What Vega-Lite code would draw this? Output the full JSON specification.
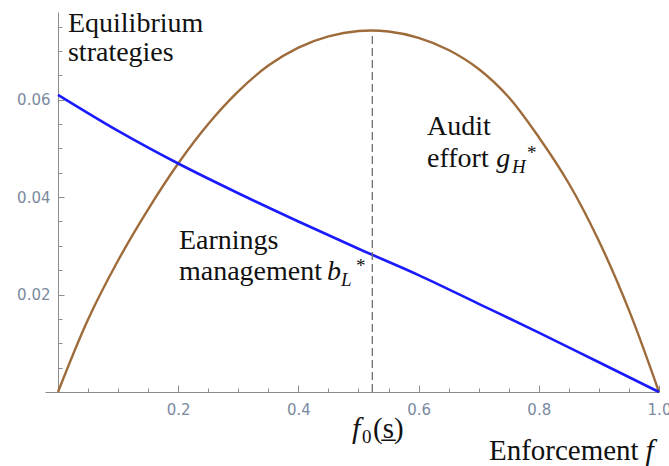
{
  "$schema": "https://vega.github.io/schema/vega-lite/v6.json",
  "autosize": {"type": "none"},
  "padding": {"left": 45, "top": 12, "right": 10, "bottom": 74},
  "width": 614,
  "height": 380,
  "config": {"view": {"stroke": null}},
  "datasets": {
    "audit": [
      {"f": 0, "v": 0}, {"f": 0.05, "v": 0.0149}, {"f": 0.1, "v": 0.027}, {"f": 0.15, "v": 0.0375},
      {"f": 0.2, "v": 0.0469}, {"f": 0.25, "v": 0.055}, {"f": 0.3, "v": 0.0617}, {"f": 0.35, "v": 0.067},
      {"f": 0.4, "v": 0.0707}, {"f": 0.45, "v": 0.073}, {"f": 0.5, "v": 0.0741}, {"f": 0.55, "v": 0.074},
      {"f": 0.6, "v": 0.0727}, {"f": 0.65, "v": 0.0702}, {"f": 0.7, "v": 0.0663}, {"f": 0.75, "v": 0.0605},
      {"f": 0.8, "v": 0.0523}, {"f": 0.85, "v": 0.0428}, {"f": 0.9, "v": 0.031}, {"f": 0.95, "v": 0.0168},
      {"f": 1, "v": 0}
    ],
    "earnings": [
      {"f": 0, "v": 0.061}, {"f": 0.1, "v": 0.0536}, {"f": 0.2, "v": 0.0469}, {"f": 0.3, "v": 0.0408},
      {"f": 0.4, "v": 0.035}, {"f": 0.5, "v": 0.0294}, {"f": 0.6, "v": 0.024}, {"f": 0.7, "v": 0.0181},
      {"f": 0.8, "v": 0.0122}, {"f": 0.9, "v": 0.0061}, {"f": 1, "v": 0}
    ],
    "threshold": [{"f": 0.523, "v": 0, "v2": 0.0739}],
    "roman": [
      {"t": "Equilibrium", "x": 0.0166, "y": 0.0739},
      {"t": "strategies", "x": 0.0166, "y": 0.0679},
      {"t": "Audit", "x": 0.614, "y": 0.0528},
      {"t": "effort", "x": 0.614, "y": 0.0462},
      {"t": "Earnings", "x": 0.2013, "y": 0.0294},
      {"t": "management", "x": 0.2013, "y": 0.023}
    ],
    "bottomroman": [
      {"t": "Enforcement", "x": 0.717, "y": -0.0139},
      {"t": "(s̲)", "x": 0.5241, "y": -0.0094}
    ],
    "italic": [
      {"t": "g", "x": 0.7291, "y": 0.0462},
      {"t": "b", "x": 0.4476, "y": 0.023}
    ],
    "bottomitalic": [
      {"t": "f", "x": 0.4892, "y": -0.0094},
      {"t": "f", "x": 0.9775, "y": -0.0139}
    ],
    "subitalic": [
      {"t": "H", "x": 0.7554, "y": 0.04495},
      {"t": "L", "x": 0.4709, "y": 0.02176}
    ],
    "subroman": [
      {"t": "0", "x": 0.5058, "y": -0.0104},
      {"t": "*", "x": 0.7804, "y": 0.0478},
      {"t": "*", "x": 0.4959, "y": 0.02463}
    ]
  },
  "resolve": {"axis": {"x": "independent", "y": "independent"}},
  "layer": [
    {
      "data": {"name": "audit"},
      "mark": {"type": "line", "color": "#9e6b3a", "strokeWidth": 2.4, "interpolate": "catmull-rom"},
      "encoding": {
        "x": {"field": "f", "type": "quantitative", "scale": {"domain": [-0.0216, 1], "nice": false, "zero": false},
          "axis": {"orient": "bottom", "values": [0.2, 0.4, 0.6, 0.8, 1.0], "format": ".1f", "title": null, "grid": false,
            "domainColor": "#8c8c8c", "tickColor": "#8c8c8c", "tickSize": -7, "labelPadding": 17,
            "labelColor": "#7a8aa0", "labelFont": "DejaVu Sans", "labelFontSize": 15, "labelFlush": false, "labelOverlap": false}},
        "y": {"field": "v", "type": "quantitative", "scale": {"domain": [0, 0.078], "nice": false},
          "axis": {"orient": "left", "offset": -13, "values": [0.02, 0.04, 0.06], "format": ".2f", "title": null, "grid": false,
            "domainColor": "#8c8c8c", "tickColor": "#8c8c8c", "tickSize": -6, "labelPadding": 14,
            "labelColor": "#7a8aa0", "labelFont": "DejaVu Sans", "labelFontSize": 15, "labelOverlap": false}}
      }
    },
    {
      "data": {"name": "earnings"},
      "mark": {"type": "line", "color": "#1a1aff", "strokeWidth": 2.6, "interpolate": "monotone"},
      "encoding": {
        "x": {"field": "f", "type": "quantitative",
          "axis": {"orient": "bottom", "values": [0.05, 0.1, 0.15, 0.25, 0.3, 0.35, 0.45, 0.5, 0.55, 0.65, 0.7, 0.75, 0.85, 0.9, 0.95],
            "labels": false, "domain": false, "title": null, "grid": false, "tickColor": "#8c8c8c", "tickSize": -4}},
        "y": {"field": "v", "type": "quantitative",
          "axis": {"orient": "left", "offset": -13, "values": [0.005, 0.01, 0.015, 0.025, 0.03, 0.035, 0.045, 0.05, 0.055, 0.065, 0.07, 0.075],
            "labels": false, "domain": false, "title": null, "grid": false, "tickColor": "#8c8c8c", "tickSize": -4}}
      }
    },
    {
      "data": {"name": "threshold"},
      "mark": {"type": "rule", "color": "#6e6e6e", "strokeWidth": 1.3, "strokeDash": [8, 4]},
      "encoding": {
        "x": {"field": "f", "type": "quantitative", "axis": null},
        "y": {"field": "v", "type": "quantitative", "axis": null},
        "y2": {"field": "v2"}
      }
    },
    {
      "data": {"name": "roman"},
      "mark": {"type": "text", "font": "Liberation Serif, Times New Roman, serif", "fontSize": 28, "align": "left", "baseline": "alphabetic", "color": "#111"},
      "encoding": {
        "x": {"field": "x", "type": "quantitative", "axis": null},
        "y": {"field": "y", "type": "quantitative", "axis": null},
        "text": {"field": "t"}
      }
    },
    {
      "data": {"name": "bottomroman"},
      "mark": {"type": "text", "font": "Liberation Serif, Times New Roman, serif", "fontSize": 29, "align": "left", "baseline": "alphabetic", "color": "#111"},
      "encoding": {
        "x": {"field": "x", "type": "quantitative", "axis": null},
        "y": {"field": "y", "type": "quantitative", "axis": null},
        "text": {"field": "t"}
      }
    },
    {
      "data": {"name": "italic"},
      "mark": {"type": "text", "font": "Liberation Serif, Times New Roman, serif", "fontSize": 28, "fontStyle": "italic", "align": "left", "baseline": "alphabetic", "color": "#111"},
      "encoding": {
        "x": {"field": "x", "type": "quantitative", "axis": null},
        "y": {"field": "y", "type": "quantitative", "axis": null},
        "text": {"field": "t"}
      }
    },
    {
      "data": {"name": "bottomitalic"},
      "mark": {"type": "text", "font": "Liberation Serif, Times New Roman, serif", "fontSize": 30, "fontStyle": "italic", "align": "left", "baseline": "alphabetic", "color": "#111"},
      "encoding": {
        "x": {"field": "x", "type": "quantitative", "axis": null},
        "y": {"field": "y", "type": "quantitative", "axis": null},
        "text": {"field": "t"}
      }
    },
    {
      "data": {"name": "subitalic"},
      "mark": {"type": "text", "font": "Liberation Serif, Times New Roman, serif", "fontSize": 19, "fontStyle": "italic", "align": "left", "baseline": "alphabetic", "color": "#111"},
      "encoding": {
        "x": {"field": "x", "type": "quantitative", "axis": null},
        "y": {"field": "y", "type": "quantitative", "axis": null},
        "text": {"field": "t"}
      }
    },
    {
      "data": {"name": "subroman"},
      "mark": {"type": "text", "font": "Liberation Serif, Times New Roman, serif", "fontSize": 19, "align": "left", "baseline": "alphabetic", "color": "#111"},
      "encoding": {
        "x": {"field": "x", "type": "quantitative", "axis": null},
        "y": {"field": "y", "type": "quantitative", "axis": null},
        "text": {"field": "t"}
      }
    }
  ]
}
